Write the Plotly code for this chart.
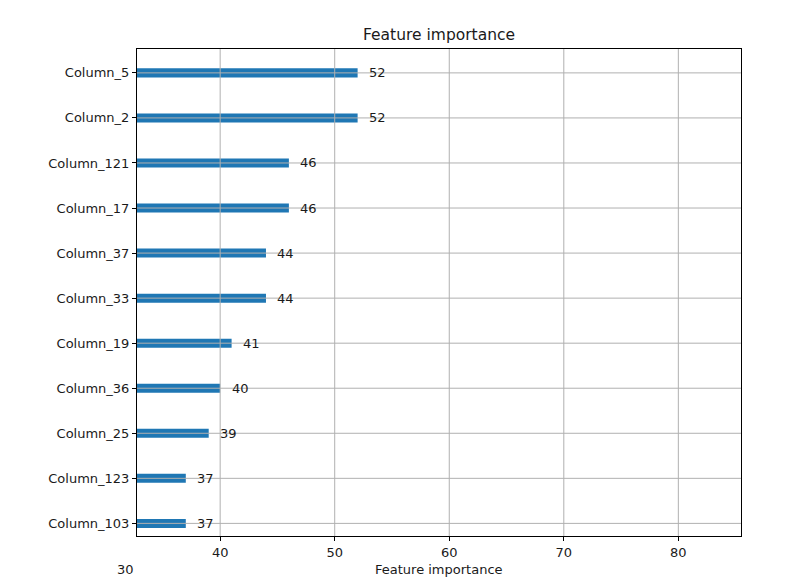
import plotly.graph_objects as go

features = ["Column_103", "Column_123", "Column_25", "Column_36", "Column_19",
            "Column_33", "Column_37", "Column_17", "Column_121", "Column_2", "Column_5"]
importance = [37, 37, 39, 40, 41, 44, 44, 46, 46, 52, 52]
x_ticks = [40, 50, 60, 70, 80]

FONT = "DejaVu Sans"
TXT = "#1a1a1a"
GRID = "#b0b0b0"

pos = list(range(len(features)))

fig = go.Figure()
fig.add_trace(go.Bar(
    x=importance, y=pos, orientation="h", width=0.2,
    marker=dict(color="#1f77b4", line=dict(width=0)),
    hoverinfo="x+y",
))

# gridlines drawn above bars (as in the reference)
shapes = []
for t in x_ticks:
    shapes.append(dict(type="line", xref="x", yref="paper", x0=t, x1=t, y0=0, y1=1,
                       line=dict(color=GRID, width=1), layer="above"))
for p in pos:
    shapes.append(dict(type="line", xref="paper", yref="y", x0=0, x1=1, y0=p, y1=p,
                       line=dict(color=GRID, width=1), layer="above"))

annotations = []
for p, v in zip(pos, importance):
    annotations.append(dict(x=v + 1, y=p, xref="x", yref="y", text=str(v),
                            showarrow=False, xanchor="left", yanchor="middle",
                            xshift=-2, font=dict(family=FONT, size=13, color=TXT)))
annotations.append(dict(text="Feature importance", x=0.5, xref="paper", y=1, yref="paper",
                        yshift=14, yanchor="middle", showarrow=False,
                        font=dict(family=FONT, size=15.5, color=TXT)))
annotations.append(dict(text="Feature importance", x=0.5, xref="paper", y=0, yref="paper",
                        yshift=-33, yanchor="middle", showarrow=False,
                        font=dict(family=FONT, size=13, color=TXT)))
annotations.append(dict(text="30", x=0, xref="paper", y=0, yref="paper",
                        xshift=-12, yshift=-33, yanchor="middle", xanchor="center",
                        showarrow=False, font=dict(family=FONT, size=13, color=TXT)))

fig.update_layout(
    width=804, height=582,
    margin=dict(l=137, r=63, t=49, b=46),
    plot_bgcolor="white", paper_bgcolor="white",
    showlegend=False,
    shapes=shapes,
    annotations=annotations,
    font=dict(family=FONT, size=13, color=TXT),
    xaxis=dict(range=[32.74, 85.47], tickvals=x_ticks, ticktext=[str(t) for t in x_ticks],
               showgrid=False, zeroline=False, showline=True, linecolor="black",
               linewidth=1, mirror=True, ticks="outside", ticklen=4, tickcolor="black",
               tickfont=dict(family=FONT, size=13, color=TXT)),
    yaxis=dict(range=[-0.28, 10.53], tickvals=pos, ticktext=features,
               showgrid=False, zeroline=False, showline=True, linecolor="black",
               linewidth=1, mirror=True, ticks="outside", ticklen=4, tickcolor="black",
               tickfont=dict(family=FONT, size=13, color=TXT)),
)

fig.write_html("out.html", config={"displayModeBar": False},
               post_script="document.body.style.margin='0';document.body.style.overflow='hidden';")
